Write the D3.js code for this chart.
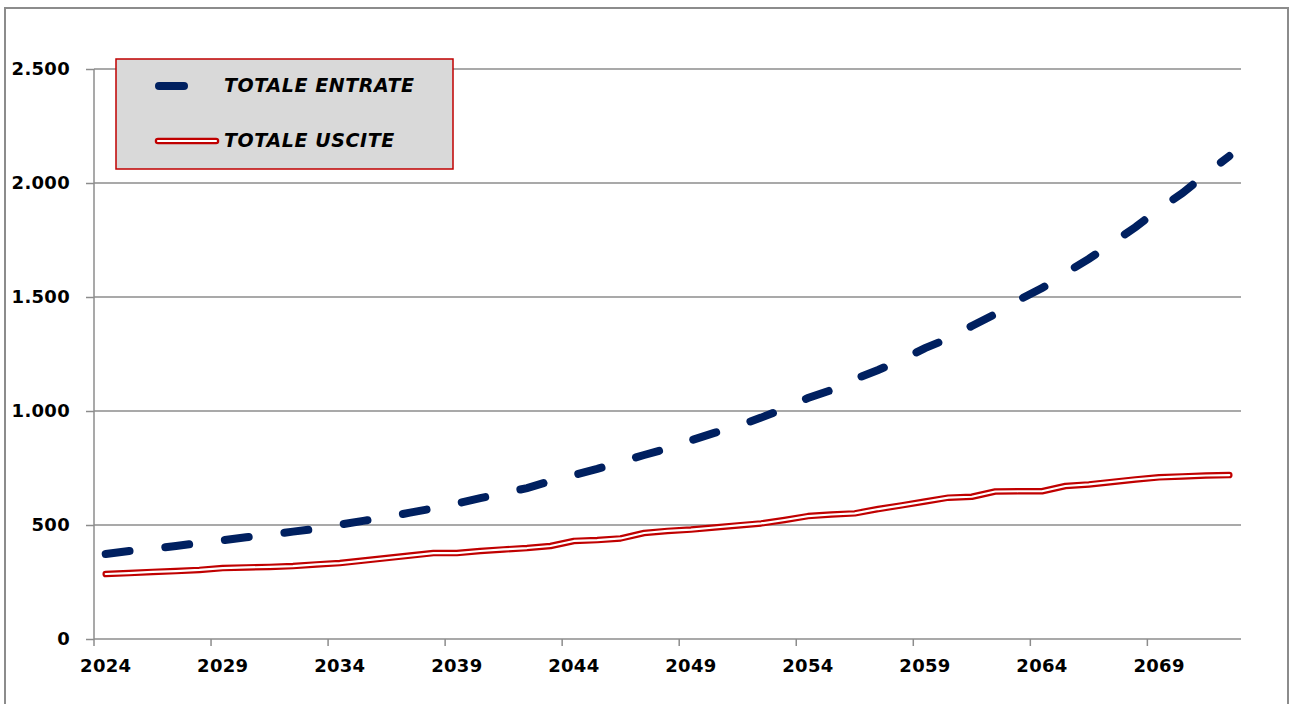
<!DOCTYPE html>
<html>
<head>
  <script src="https://d3js.org/d3.v7.min.js"></script>
  <style>
    body { margin: 0; background: #fff; }
    .tick text { font-family: "DejaVu Sans", Verdana, sans-serif; font-weight: bold; font-size: 18px; letter-spacing: 0.3px; fill: #000; }
    .legend text { font-family: "DejaVu Sans", Verdana, sans-serif; font-weight: bold; font-style: italic; font-size: 19px; letter-spacing: 0.6px; fill: #000; }
  </style>
</head>
<body>
  <script>
    // Data
    const years = d3.range(2024, 2073);
    const entrate = [373, 386, 395, 408, 421, 433, 446, 458, 471, 483,
                     502, 518, 535, 554, 573, 594, 618, 640, 662, 693,
                     719, 746, 776, 807, 836, 871, 904, 934, 971, 1011,
                     1057, 1092, 1140, 1180, 1224, 1276, 1318, 1373, 1425, 1487,
                     1539, 1605, 1667, 1737, 1807, 1886, 1956, 2039, 2118];
    const uscite = [285, 289, 294, 298, 303, 311, 314, 316, 320, 327,
                    333, 344, 355, 366, 377, 377, 386, 393, 399, 408,
                    430, 434, 441, 465, 474, 480, 489, 498, 507, 522,
                    539, 546, 551, 570, 586, 603, 620, 624, 647, 648,
                    648, 671, 678, 689, 700, 709, 713, 717, 719];
    const yTicks = [0, 500, 1000, 1500, 2000, 2500];
    const xLabelYears = [2024, 2029, 2034, 2039, 2044, 2049, 2054, 2059, 2064, 2069];

    const W = 1290, H = 704;
    const margin = {top: 69, right: 49, bottom: 65, left: 94},
          width = W - margin.left - margin.right,
          height = H - margin.top - margin.bottom;

    const itFormat = d3.formatLocale({decimal: ",", thousands: ".", grouping: [3], currency: ["€", ""]}).format(",d");

    const root = d3.select("body").append("svg")
      .attr("width", W)
      .attr("height", H);

    // Outer chart border
    root.append("rect")
      .attr("x", 5).attr("y", 8)
      .attr("width", 1283).attr("height", 710)
      .attr("fill", "none")
      .attr("stroke", "#8c8c8c")
      .attr("stroke-width", 2);

    const svg = root.append("g")
      .attr("transform", `translate(${margin.left},${margin.top})`);

    // Scales
    const x = d3.scaleBand()
      .domain(years)
      .range([0, width]);
    const y = d3.scaleLinear()
      .domain([0, 2500])
      .range([height, 0]);

    // Gridlines
    svg.append("g")
      .selectAll("line")
      .data(yTicks.filter(d => d > 0))
      .join("line")
        .attr("x1", 0).attr("x2", width)
        .attr("y1", d => y(d)).attr("y2", d => y(d))
        .attr("stroke", "#8c8c8c")
        .attr("stroke-width", 1.5);

    // Y axis
    const yAxis = svg.append("g")
      .call(d3.axisLeft(y).tickValues(yTicks).tickFormat(itFormat).tickSize(8).tickPadding(16));
    yAxis.selectAll("line, path").attr("stroke", "#8c8c8c").attr("stroke-width", 1.5);
    yAxis.select(".domain").attr("d", `M0,0V${height}`);

    // X axis: ticks on category boundaries every 5 years, labels under category
    const xAxis = svg.append("g")
      .attr("transform", `translate(0,${height})`);
    xAxis.append("line")
      .attr("x1", 0).attr("x2", width)
      .attr("stroke", "#8c8c8c").attr("stroke-width", 1.5);
    xAxis.selectAll(".xt")
      .data(xLabelYears)
      .join("line")
        .attr("class", "xt")
        .attr("x1", d => x(d)).attr("x2", d => x(d))
        .attr("y1", 0).attr("y2", 7)
        .attr("stroke", "#8c8c8c").attr("stroke-width", 1.5);
    xAxis.selectAll(".tick")
      .data(xLabelYears)
      .join("g")
        .attr("class", "tick")
      .append("text")
        .attr("x", d => x(d) + x.bandwidth() / 2)
        .attr("y", 33)
        .attr("text-anchor", "middle")
        .text(d => d);

    const cx = d => x(d) + x.bandwidth() / 2;

    // TOTALE USCITE: double line (red outline, white core)
    const lineU = d3.line()
      .x((d, i) => cx(years[i]))
      .y(d => y(d));
    svg.append("path")
      .datum(uscite)
      .attr("fill", "none")
      .attr("stroke", "#c00000")
      .attr("stroke-width", 6.5)
      .attr("stroke-linejoin", "round")
      .attr("stroke-linecap", "round")
      .attr("d", lineU);
    svg.append("path")
      .datum(uscite)
      .attr("fill", "none")
      .attr("stroke", "#fff")
      .attr("stroke-width", 2.2)
      .attr("stroke-linejoin", "round")
      .attr("stroke-linecap", "round")
      .attr("d", lineU);

    // TOTALE ENTRATE: dashed navy line
    svg.append("path")
      .datum(entrate)
      .attr("fill", "none")
      .attr("stroke", "#002060")
      .attr("stroke-width", 8)
      .attr("stroke-linecap", "round")
      .attr("stroke-dasharray", "24,36")
      .attr("d", d3.line()
        .x((d, i) => cx(years[i]))
        .y(d => y(d)));

    // Legend
    const legend = root.append("g").attr("class", "legend");
    legend.append("rect")
      .attr("x", 116).attr("y", 59)
      .attr("width", 337).attr("height", 110)
      .attr("fill", "#d9d9d9")
      .attr("stroke", "#c00000")
      .attr("stroke-width", 1.5);
    legend.append("line")
      .attr("x1", 159).attr("x2", 184)
      .attr("y1", 86).attr("y2", 86)
      .attr("stroke", "#002060").attr("stroke-width", 8)
      .attr("stroke-linecap", "round");
    legend.append("text")
      .attr("x", 224).attr("y", 92)
      .text("TOTALE ENTRATE");
    legend.append("line")
      .attr("x1", 158).attr("x2", 216)
      .attr("y1", 141).attr("y2", 141)
      .attr("stroke", "#c00000").attr("stroke-width", 6.5)
      .attr("stroke-linecap", "round");
    legend.append("line")
      .attr("x1", 158).attr("x2", 216)
      .attr("y1", 141).attr("y2", 141)
      .attr("stroke", "#fff").attr("stroke-width", 2.2)
      .attr("stroke-linecap", "round");
    legend.append("text")
      .attr("x", 224).attr("y", 147)
      .text("TOTALE USCITE");
  </script>
</body>
</html>
